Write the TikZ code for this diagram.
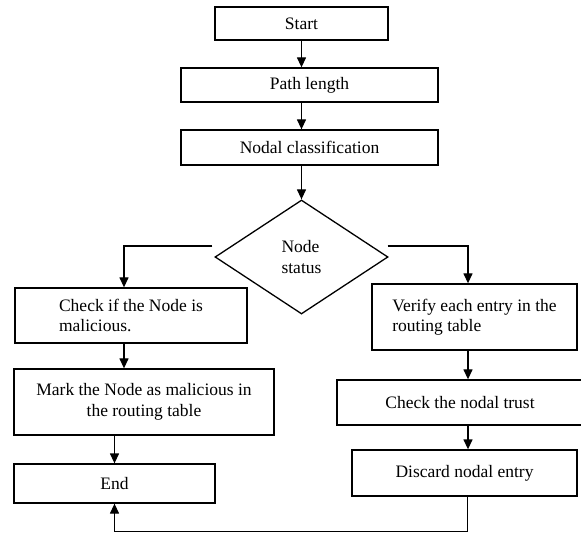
\documentclass[tikz,border=0pt]{standalone}
\usepackage{fontspec}
\setmainfont{Liberation Serif}
\usetikzlibrary{shapes.geometric, arrows.meta, positioning, calc}

\begin{document}
\begin{tikzpicture}[
    x=1pt, y=-1pt,
    line width=1.3pt,
    box/.style={rectangle, draw, minimum height=34pt, inner sep=2pt, align=center, font=\fontsize{17.5}{20.5}\selectfont},
    decision/.style={diamond, draw, minimum width=173pt, minimum height=114pt, inner sep=0pt, align=left, font=\fontsize{17.5}{20.5}\selectfont},
    arrow/.style={-{Triangle[length=10pt, width=9pt]}}
]
    \useasboundingbox (0,0) rectangle (581,534);

    \node[box, minimum width=173pt, minimum height=33pt] (start) at (301.5, 23.5) {Start};
    \node[box, minimum width=257pt] (pathlen) at (309.5, 85) {Path length};
    \node[box, minimum width=257pt, minimum height=35pt] (nodal) at (309.5, 147.5) {Nodal classification};
    \node[decision] (status) at (301.5, 257) {Node\\status};

    \node[box, minimum width=232pt, minimum height=55pt, align=left] (check) at (131, 315.5) {Check if the Node is\\malicious.};
    \node[box, minimum width=260pt, minimum height=66pt] (mark) at (144, 402) {Mark the Node as malicious in\\the routing table};
    \node[box, minimum width=201pt, minimum height=39pt] (finish) at (114.5, 483.5) {End};

    \node[box, minimum width=205pt, minimum height=66pt, align=left] (verify) at (474.5, 317) {Verify each entry in the\\routing table};
    \node[box, minimum width=246pt, minimum height=45pt] (trust) at (460, 402.5) {Check the nodal trust};
    \node[box, minimum width=225pt, minimum height=46pt] (discard) at (464.5, 473) {Discard nodal entry};

    \draw[arrow] (start.south) -- (start.south |- pathlen.north);
    \draw[arrow] (start.south |- pathlen.south) -- (start.south |- nodal.north);
    \draw[arrow] (start.south |- nodal.south) -- (status.north);

    \draw[arrow] ([xshift=-2pt, yshift=11pt]status.west) -| ([xshift=-7pt]check.north);
    \draw[arrow] ([xshift=-1pt, yshift=11pt]status.east) -| ([xshift=-6.5pt]verify.north);

    \draw[arrow] ([xshift=-7pt]check.south) -- ([xshift=-7pt]check.south |- mark.north);
    \draw[arrow] (finish.north |- mark.south) -- (finish.north);

    \draw[arrow] ([xshift=-6.5pt]verify.south) -- ([xshift=-6.5pt]verify.south |- trust.north);
    \draw[arrow] ([xshift=-6.5pt]verify.south |- trust.south) -- ([xshift=-6.5pt]verify.south |- discard.north);
    \draw[arrow] ([xshift=3pt]discard.south) -- ++(0,35) -| (finish.south);
\end{tikzpicture}
\end{document}
